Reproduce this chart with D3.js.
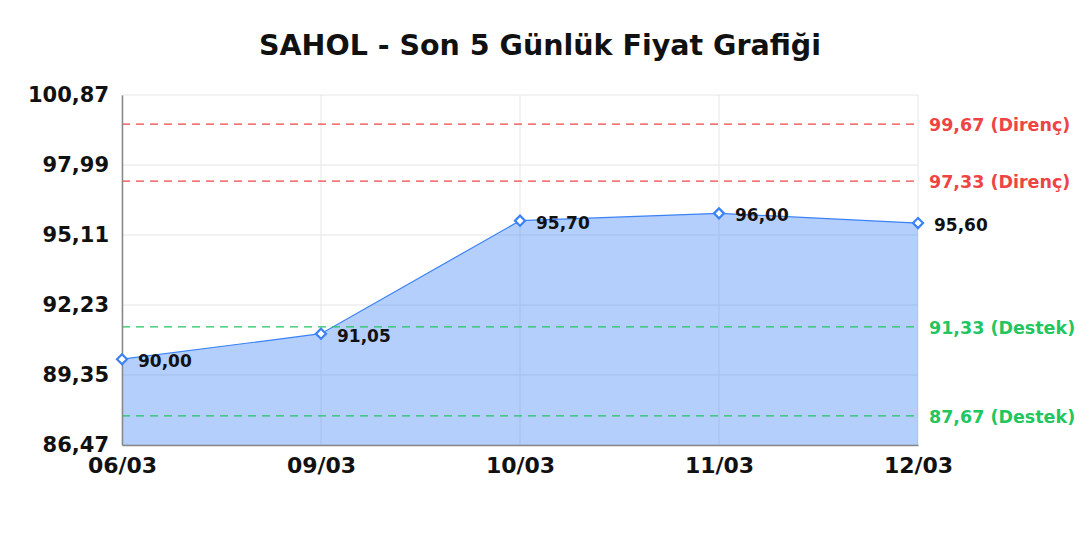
<!DOCTYPE html>
<html>
<head>
<meta charset="utf-8">
<script src="https://cdn.jsdelivr.net/npm/d3@7"></script>
<style>
  html, body { margin: 0; padding: 0; background: #fff; }
  svg { display: block; font-family: "DejaVu Sans", sans-serif; }
</style>
</head>
<body>
<svg id="chart" width="1080" height="540"></svg>
<script>
const dates = ['06/03', '09/03', '10/03', '11/03', '12/03'];
const prices = [90.00, 91.05, 95.70, 96.00, 95.60];
const yTicks = [86.47, 89.35, 92.23, 95.11, 97.99, 100.87];
const resistance = [99.67, 97.33];
const support = [91.33, 87.67];

const width = 1080, height = 540;
const margin = { top: 95, right: 162, bottom: 95, left: 122 };

const svg = d3.select('#chart');
const fmt = v => d3.format('.2f')(v).replace('.', ',');

const x = d3.scalePoint()
  .domain(dates)
  .range([margin.left, width - margin.right]);

const y = d3.scaleLinear()
  .domain([yTicks[0], yTicks[yTicks.length - 1]])
  .range([height - margin.bottom, margin.top]);

// grid
svg.append('g')
  .selectAll('line')
  .data(yTicks)
  .enter().append('line')
  .attr('x1', margin.left).attr('x2', width - margin.right)
  .attr('y1', d => y(d)).attr('y2', d => y(d))
  .attr('stroke', '#e6e6e6').attr('stroke-width', 1);

svg.append('g')
  .selectAll('line')
  .data(dates)
  .enter().append('line')
  .attr('x1', d => x(d)).attr('x2', d => x(d))
  .attr('y1', margin.top).attr('y2', height - margin.bottom)
  .attr('stroke', '#e6e6e6').attr('stroke-width', 1);

// area + line
const area = d3.area()
  .x((d, i) => x(dates[i]))
  .y0(y(yTicks[0]))
  .y1(d => y(d));

svg.append('path')
  .datum(prices)
  .attr('d', area)
  .attr('fill', 'rgba(59,130,246,0.38)');

const line = d3.line()
  .x((d, i) => x(dates[i]))
  .y(d => y(d));

svg.append('path')
  .datum(prices)
  .attr('d', line)
  .attr('fill', 'none')
  .attr('stroke', '#3b82f6')
  .attr('stroke-width', 1.2);

// reference lines
const refs = resistance.map(v => ({ v, label: `${fmt(v)} (Direnç)`, color: '#ef4444' }))
  .concat(support.map(v => ({ v, label: `${fmt(v)} (Destek)`, color: '#22c55e' })));

svg.append('g')
  .selectAll('line')
  .data(refs)
  .enter().append('line')
  .attr('x1', margin.left).attr('x2', width - margin.right)
  .attr('y1', d => y(d.v)).attr('y2', d => y(d.v))
  .attr('stroke', d => d.color)
  .attr('stroke-width', 1.2)
  .attr('stroke-dasharray', '8,6');

svg.append('g')
  .selectAll('text')
  .data(refs)
  .enter().append('text')
  .attr('x', width - margin.right + 11)
  .attr('y', d => y(d.v) + 1)
  .attr('dy', '0.35em')
  .attr('fill', d => d.color)
  .style('font-size', '17.5px')
  .style('font-weight', 'bold')
  .text(d => d.label);

// axes
const yAxis = svg.append('g')
  .attr('transform', `translate(${margin.left},0)`)
  .call(d3.axisLeft(y).tickValues(yTicks).tickFormat(fmt).tickSize(0).tickPadding(13));
yAxis.select('.domain').attr('stroke', '#888').attr('stroke-width', 1.5);
yAxis.selectAll('text')
  .style('font-size', '21px')
  .style('font-weight', 'bold')
  .style('font-family', '"DejaVu Sans", sans-serif')
  .attr('fill', '#111');

const xAxis = svg.append('g')
  .attr('transform', `translate(0,${height - margin.bottom})`)
  .call(d3.axisBottom(x).tickSize(0).tickPadding(12));
xAxis.select('.domain').attr('stroke', '#888').attr('stroke-width', 1.5);
xAxis.selectAll('text')
  .style('font-size', '22px')
  .style('font-weight', 'bold')
  .style('font-family', '"DejaVu Sans", sans-serif')
  .attr('fill', '#111');

// markers
const diamond = d3.symbol().type(d3.symbolDiamond2).size(64);
svg.append('g')
  .selectAll('path')
  .data(prices)
  .enter().append('path')
  .attr('d', diamond)
  .attr('transform', (d, i) => `translate(${x(dates[i])},${y(d)})`)
  .attr('fill', '#fff')
  .attr('stroke', '#3b82f6')
  .attr('stroke-width', 2.2);

// point labels
svg.append('g')
  .selectAll('text')
  .data(prices)
  .enter().append('text')
  .attr('x', (d, i) => x(dates[i]) + 16)
  .attr('y', d => y(d) + 2)
  .attr('dy', '0.35em')
  .attr('fill', '#111')
  .style('font-size', '17px')
  .style('font-weight', 'bold')
  .text(d => fmt(d));

// title
svg.append('text')
  .attr('x', 540)
  .attr('y', 55)
  .attr('text-anchor', 'middle')
  .attr('fill', '#111')
  .style('font-size', '28.5px')
  .style('font-weight', 'bold')
  .text('SAHOL - Son 5 Günlük Fiyat Grafiği');
</script>
</body>
</html>
